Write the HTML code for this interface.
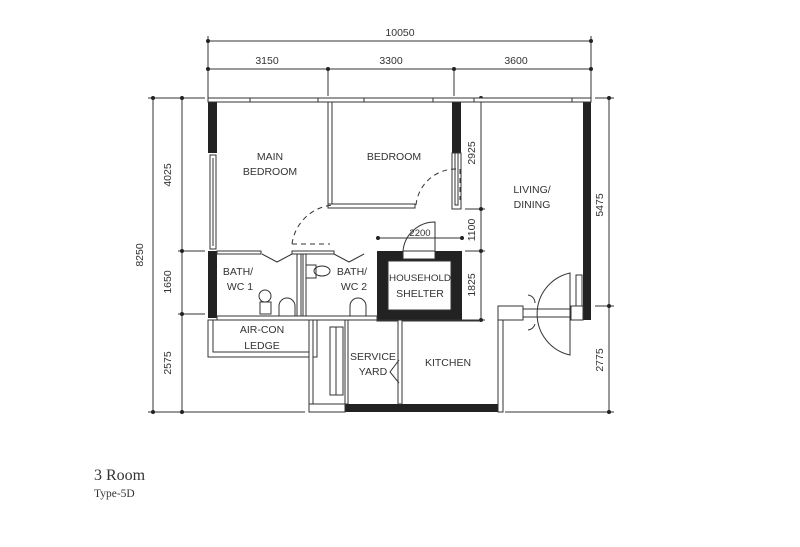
<!DOCTYPE html>
<html><head><meta charset="utf-8"><style>
html,body{margin:0;padding:0;background:#fff;width:800px;height:547px;overflow:hidden}
svg{display:block}
text{font-family:"Liberation Sans",sans-serif;fill:#333}
</style></head><body>
<svg width="800" height="547" viewBox="0 0 800 547" xmlns="http://www.w3.org/2000/svg">
<g stroke="#333" stroke-width="1" fill="none">
<line x1="208" y1="41" x2="591" y2="41"/>
<line x1="208" y1="69" x2="591" y2="69"/>
<line x1="208" y1="36" x2="208" y2="98"/>
<line x1="591" y1="36" x2="591" y2="98"/>
<line x1="328" y1="69" x2="328" y2="96"/>
<line x1="454" y1="69" x2="454" y2="96"/>
<line x1="148" y1="98" x2="205" y2="98"/>
<line x1="153" y1="98" x2="153" y2="412"/>
<line x1="182" y1="98" x2="182" y2="412"/>
<line x1="148" y1="412" x2="305" y2="412"/>
<line x1="178" y1="251" x2="205" y2="251"/>
<line x1="178" y1="314" x2="205" y2="314"/>
<line x1="595" y1="98" x2="614" y2="98"/>
<line x1="609" y1="98" x2="609" y2="412"/>
<line x1="595" y1="306" x2="614" y2="306"/>
<line x1="505" y1="412" x2="614" y2="412"/>
<line x1="481" y1="98" x2="481" y2="320"/>
<line x1="465" y1="209" x2="485" y2="209"/>
<line x1="465" y1="251" x2="485" y2="251"/>
<line x1="465" y1="320" x2="485" y2="320"/>
<line x1="378" y1="238" x2="462" y2="238"/>
</g>
<g fill="#222">
<circle cx="208" cy="41" r="2"/><circle cx="591" cy="41" r="2"/>
<circle cx="208" cy="69" r="2"/><circle cx="328" cy="69" r="2"/><circle cx="454" cy="69" r="2"/><circle cx="591" cy="69" r="2"/>
<circle cx="153" cy="98" r="2"/><circle cx="182" cy="98" r="2"/><circle cx="182" cy="251" r="2"/><circle cx="182" cy="314" r="2"/>
<circle cx="153" cy="412" r="2"/><circle cx="182" cy="412" r="2"/>
<circle cx="481" cy="98" r="2"/><circle cx="481" cy="209" r="2"/><circle cx="481" cy="251" r="2"/><circle cx="481" cy="320" r="2"/>
<circle cx="378" cy="238" r="2"/><circle cx="462" cy="238" r="2"/>
<circle cx="609" cy="98" r="2"/><circle cx="609" cy="306" r="2"/><circle cx="609" cy="412" r="2"/>
<rect x="208" y="102" width="9" height="51"/>
<rect x="208" y="251" width="9" height="67"/>
<rect x="452" y="102" width="9" height="51"/>
<rect x="583" y="102" width="8" height="218"/>
<rect x="377" y="251" width="85" height="69"/>
<rect x="345" y="404" width="158" height="8"/>
</g>
<g stroke="#333" stroke-width="1" fill="#fff">
<rect x="208" y="98" width="383" height="4"/>
<rect x="208" y="98" width="42" height="4"/>
<rect x="318" y="98" width="46" height="4"/>
<rect x="433" y="98" width="41" height="4"/>
<rect x="572" y="98" width="19" height="4"/>
<rect x="210" y="155" width="6" height="94"/>
<line x1="213" y1="158" x2="213" y2="246"/>
<rect x="328" y="102" width="4" height="106"/>
<rect x="328" y="204" width="87" height="4"/>
<rect x="452" y="153" width="9" height="56"/>
<rect x="455" y="153" width="3" height="52"/>
<rect x="388" y="261" width="63" height="49"/>
<rect x="403" y="251" width="32" height="8"/>
<rect x="217" y="251" width="44" height="3"/>
<rect x="292" y="251" width="42" height="3"/>
<rect x="297" y="254" width="4" height="62"/>
<rect x="303" y="254" width="3" height="62"/>
<rect x="217" y="316" width="160" height="4"/>
<rect x="377" y="320" width="103" height="1"/>
<rect x="208" y="320" width="109" height="37"/>
<rect x="213" y="320" width="100" height="32"/>
<rect x="309" y="320" width="4" height="92"/>
<rect x="309" y="404" width="36" height="8"/>
<rect x="345" y="320" width="3" height="84"/>
<rect x="398" y="320" width="4" height="84"/>
<rect x="330" y="327" width="13" height="68"/>
<line x1="336" y1="327" x2="336" y2="395"/>
<rect x="498" y="306" width="5" height="106"/>
<rect x="498" y="306" width="25" height="14"/>
<rect x="523" y="309" width="48" height="8"/>
<rect x="571" y="306" width="12" height="14"/>
<rect x="576" y="275" width="6" height="31"/>
</g>
<g stroke="#333" stroke-width="1" fill="none">
<path d="M570 273 V355 A42 42 0 0 1 570 273 Z"/>
<path d="M535 303 A8 8 0 0 0 528 295 M535 324 A8 8 0 0 1 528 330"/>
<path d="M435 251 V222 A32 32 0 0 0 403 251"/>
<path d="M416 205 A40 40 0 0 1 455 169 H460 V200" stroke-dasharray="5 4"/>
<path d="M292 244 A45 45 0 0 1 333 205 M292 244 H330" stroke-dasharray="5 4"/>
<path d="M399 360 L390 372 L399 383"/>
<path d="M262 254 L277 262 L292 254 M334 254 L349 262 L364 254"/>
<circle cx="265" cy="296" r="6"/><rect x="260" y="302" width="11" height="12"/>
<path d="M279 316 V306 A8 8 0 0 1 295 306 V316"/>
<path d="M350 316 V306 A8 8 0 0 1 366 306 V316"/>
<rect x="306" y="265" width="10" height="13"/><ellipse cx="322" cy="271" rx="8" ry="5"/>
</g>
<g font-size="10.5" text-anchor="middle">
<text x="400" y="36">10050</text>
<text x="267" y="64">3150</text>
<text x="391" y="64">3300</text>
<text x="516" y="64">3600</text>
<text x="270" y="160">MAIN</text>
<text x="270" y="175">BEDROOM</text>
<text x="394" y="160">BEDROOM</text>
<text x="532" y="193">LIVING/</text>
<text x="532" y="208">DINING</text>
<text x="238" y="275">BATH/</text>
<text x="240" y="290">WC 1</text>
<text x="352" y="275">BATH/</text>
<text x="354" y="290">WC 2</text>
<text x="420" y="281" font-size="9.5" textLength="62" lengthAdjust="spacingAndGlyphs">HOUSEHOLD</text>
<text x="420" y="297">SHELTER</text>
<text x="420" y="236" font-size="9.5">2200</text>
<text x="262" y="333">AIR-CON</text>
<text x="262" y="349">LEDGE</text>
<text x="373" y="360">SERVICE</text>
<text x="373" y="375">YARD</text>
<text x="448" y="366">KITCHEN</text>
<text transform="translate(171,175) rotate(-90)">4025</text>
<text transform="translate(171,282) rotate(-90)">1650</text>
<text transform="translate(171,363) rotate(-90)">2575</text>
<text transform="translate(143,255) rotate(-90)">8250</text>
<text transform="translate(475,153) rotate(-90)">2925</text>
<text transform="translate(475,230) rotate(-90)">1100</text>
<text transform="translate(475,285) rotate(-90)">1825</text>
<text transform="translate(603,205) rotate(-90)">5475</text>
<text transform="translate(603,360) rotate(-90)">2775</text>
</g>
<text x="94" y="480" font-size="16" style="font-family:'Liberation Serif',serif">3 Room</text>
<text x="94" y="497" font-size="11.5" style="font-family:'Liberation Serif',serif">Type-5D</text>
</svg>
</body></html>
